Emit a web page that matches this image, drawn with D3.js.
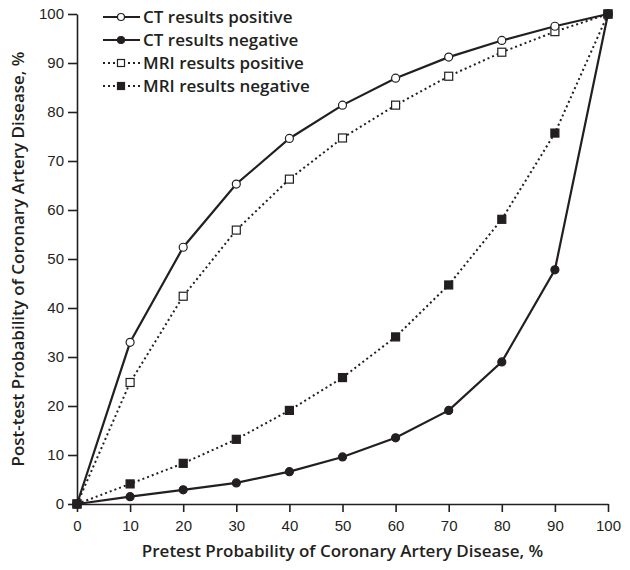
<!DOCTYPE html>
<meta charset="utf-8">
<style>
body { margin: 0; background: #fff; }
svg { font-family: "Open Sans", sans-serif; }
.axis path, .axis line { stroke: #231f20; stroke-width: 1.6; }
.axis text { font-size: 15px; fill: #231f20; }
.title { font-size: 17px; font-weight: 600; fill: #231f20; }
.legend text { font-size: 17px; font-weight: 600; fill: #231f20; }
</style>
<body>
<script src="https://cdn.jsdelivr.net/npm/d3@7"></script>
<script>

// pretest probability (x)
var pretest = [0, 10, 20, 30, 40, 50, 60, 70, 80, 90, 100];

// post-test probability for each series
var ctPositive  = [0, 33, 52.4, 65.3, 74.6, 81.4, 86.9, 91.2, 94.6, 97.5, 100];
var ctNegative  = [0, 1.5, 2.9, 4.3, 6.6, 9.6, 13.5, 19.1, 29, 47.8, 100];
var mriPositive = [0, 24.8, 42.4, 55.9, 66.3, 74.7, 81.4, 87.3, 92.2, 96.4, 100];
var mriNegative = [0, 4.1, 8.3, 13.2, 19.1, 25.8, 34.1, 44.7, 58.1, 75.7, 100];

var seriesNames = ["CT results positive", "CT results negative", "MRI results positive", "MRI results negative"];

var xTicks = [0, 10, 20, 30, 40, 50, 60, 70, 80, 90, 100];
var yTicks = [0, 10, 20, 30, 40, 50, 60, 70, 80, 90, 100];

var margin = {top: 14, right: 22, bottom: 66, left: 77},
    width = 630 - margin.left - margin.right,
    height = 570 - margin.top - margin.bottom;

var svg = d3.select("body").append("svg")
    .attr("width", 630)
    .attr("height", 570)
  .append("g")
    .attr("transform", "translate(" + margin.left + "," + margin.top + ")");

var x = d3.scaleLinear().domain([0, 100]).range([0, width]);
var y = d3.scaleLinear().domain([0, 100]).range([height, 0]);

// axes
svg.append("g")
    .attr("class", "axis")
    .attr("transform", "translate(0," + height + ")")
    .call(d3.axisBottom(x).tickValues(xTicks).tickSize(8).tickSizeOuter(0).tickPadding(5))
    .selectAll("text").attr("dy", "0.9em");

svg.append("g")
    .attr("class", "axis")
    .call(d3.axisLeft(y).tickValues(yTicks).tickSize(9).tickSizeOuter(0).tickPadding(4));

// axis titles
svg.append("text")
    .attr("class", "title")
    .attr("text-anchor", "middle")
    .attr("x", width / 2)
    .attr("y", height + 53)
    .text("Pretest Probability of Coronary Artery Disease, %");

svg.append("text")
    .attr("class", "title")
    .attr("text-anchor", "middle")
    .attr("transform", "translate(-53," + (height / 2) + ") rotate(-90)")
    .text("Post-test Probability of Coronary Artery Disease, %");

var series = [
  {name: seriesNames[0], values: ctPositive,  dash: null,  marker: "circle", fill: "#fff"},
  {name: seriesNames[1], values: ctNegative,  dash: null,  marker: "circle", fill: "#231f20"},
  {name: seriesNames[2], values: mriPositive, dash: "2,3", marker: "square", fill: "#fff"},
  {name: seriesNames[3], values: mriNegative, dash: "2,3", marker: "square", fill: "#231f20"}
];

var line = d3.line()
    .x(function(d, i) { return x(pretest[i]); })
    .y(function(d) { return y(d); });

function drawMarker(g, s, cx, cy, size) {
  if (s.marker === "circle") {
    g.append("circle")
      .attr("cx", cx).attr("cy", cy).attr("r", size / 2)
      .attr("fill", s.fill).attr("stroke", "#231f20").attr("stroke-width", 1.2);
  } else {
    g.append("rect")
      .attr("x", cx - size / 2).attr("y", cy - size / 2).attr("width", size).attr("height", size)
      .attr("fill", s.fill).attr("stroke", "#231f20").attr("stroke-width", 1.2);
  }
}

// draw dotted series first, solid on top
[2, 3, 0, 1].forEach(function(k) {
  var s = series[k];
  var g = svg.append("g");
  g.append("path")
    .datum(s.values)
    .attr("fill", "none")
    .attr("stroke", "#231f20")
    .attr("stroke-width", s.dash ? 2 : 2.2)
    .attr("stroke-dasharray", s.dash)
    .attr("d", line);
  s.values.forEach(function(v, i) {
    drawMarker(g, s, x(pretest[i]), y(v), s.marker === "circle" ? 8 : 8);
  });
});

// legend
var legend = svg.append("g").attr("class", "legend")
    .attr("transform", "translate(26,3)");

series.forEach(function(s, i) {
  var g = legend.append("g").attr("transform", "translate(0," + (i * 23) + ")");
  g.append("line")
    .attr("x1", 0).attr("x2", 37).attr("y1", 0).attr("y2", 0)
    .attr("stroke", "#231f20")
    .attr("stroke-width", s.dash ? 2 : 2.2)
    .attr("stroke-dasharray", s.dash);
  drawMarker(g, s, 18, 0, 7);
  g.append("text")
    .attr("x", 40)
    .attr("y", 0)
    .attr("dy", "0.35em")
    .text(s.name);
});

</script>
</body>
